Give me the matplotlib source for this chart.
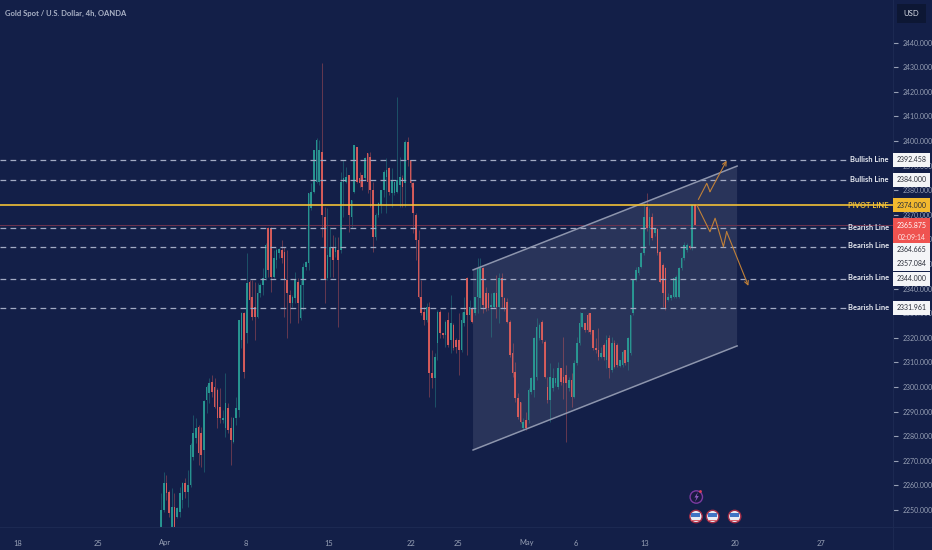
import matplotlib
matplotlib.use("Agg")
import matplotlib.pyplot as plt
from matplotlib.patches import Polygon, Rectangle, Circle

W, H = 932, 550
BG = "#131f48"
UP = "#2a9f97"
DOWN = "#e5605c"
AXIS_TXT = "#97a0b5"

title = "Gold Spot / U.S. Dollar, 4h, OANDA"

direction = ("GGRRGRGGGR" "GGGGRRGGGR" "RRRGGRRGGG" "GRGRRRGGGG" "RRGGGRRRRG"
             "GRGGGGGGGG" "RRGGRGRGGG" "RGGRRRGRRR" "GGGGGRGGGG" "RGRRRRRRRG"
             "RRGGRRGR"
             "GRRRGGRGRG" "GGRRRGGRGR" "RRRRRRRGRG" "GGGGRRRGGG" "GRRRGRGGGG"
             "RRRRRRGRGR" "GRRGGRGGGG" "GGGRGRGRRR" "RGGGGGGGGRGR")

highs = [2256.8,2265.6,2264.2,2258.1,2258.8,2256.8,2251.4,2259.5,2261.5,2262.9,
         2266.3,2277.1,2288.6,2287.3,2284.6,2283.9,2294.7,2300.8,2303.5,2304.9,
         2303.5,2299.5,2299.5,2290.7,2305.6,2293.4,2288.0,2288.0,2296.0,2327.2,
         2330.6,2330.6,2354.3,2343.5,2343.5,2342.8,2342.1,2342.1,2348.2,2358.4,
         2365.2,2365.2,2355.7,2356.4,2356.4,2359.8,2357.1,2355.7,2339.4,2337.4,
         2346.9,2344.2,2343.5,2350.3,2351.2,2378.7,2382.8,2396.3,2401.1,2400.4,
         2431.6,2373.3,2372.6,2365.2,2361.8,2361.1,2361.1,2387.5,2392.3,2389.6,
         2386.2,2376.0,2398.4,2397.7,2387.5,2386.2,2393.6,2395.0,2395.7,2383.5,
         2370.6,2375.0,2380.1,2388.2,2393.0,2389.6,2388.9,2383.5,2418.0,2393.6,
         2386.2,2400.4,2401.8,2392.3,2383.5,2370.6,2363.8,2343.5,2332.7,2334.0,
         2334.7,2315.0,2313.7,2331.3,2331.3,2322.0,2327.2,2330.6,
         2337.4,2325.9,2319.8,2330.0,2330.6,2336.7,2344.9,2335.4,2332.7,2336.7,
         2352.3,2352.3,2348.9,2340.8,2338.1,2338.1,2338.5,2345.5,2346.2,2346.2,
         2336.7,2336.0,2327.2,2317.8,2310.3,2297.4,2294.0,2287.3,2290.0,2299.5,
         2304.2,2320.5,2327.9,2325.9,2327.2,2319.1,2304.2,2309.6,2307.6,2303.5,
         2310.3,2307.6,2320.5,2309.0,2304.2,2305.6,2311.0,2320.5,2330.6,2330.0,
         2326.0,2330.0,2330.0,2323.2,2320.0,2323.8,2316.4,2317.8,2321.1,2321.1,
         2320.5,2319.1,2317.8,2311.0,2315.0,2315.0,2320.5,2329.3,2343.5,2348.9,
         2348.9,2355.0,2374.7,2378.7,2372.6,2370.6,2364.8,2364.5,2355.7,2350.3,
         2348.9,2338.1,2337.4,2344.2,2345.5,2348.9,2353.0,2359.1,2358.4,2357.7,
         2374.0,2374.0]

body_top = [2250.0,2260.8,2260.8,2257.5,2251.4,2251.4,2250.7,2256.8,2260.8,2260.8,
            2260.2,2276.4,2281.2,2283.2,2283.9,2281.2,2294.4,2300.1,2301.5,2302.2,
            2300.1,2298.8,2292.0,2287.3,2293.4,2291.3,2283.2,2287.3,2291.3,2327.2,
            2330.0,2330.2,2342.1,2342.8,2336.7,2332.7,2338.1,2341.5,2344.2,2357.7,
            2364.5,2364.5,2352.3,2355.7,2356.1,2355.7,2355.0,2343.5,2337.4,2336.7,
            2343.5,2342.8,2341.5,2348.9,2350.9,2378.7,2379.4,2396.3,2400.4,2396.3,
            2395.7,2369.2,2353.7,2357.1,2357.1,2357.1,2355.7,2383.5,2384.8,2385.5,
            2386.2,2376.0,2398.4,2397.7,2384.8,2386.2,2393.0,2395.0,2393.6,2380.1,
            2369.9,2374.7,2380.1,2387.5,2388.2,2388.9,2384.2,2383.5,2384.2,2385.5,
            2384.8,2399.7,2399.7,2392.3,2382.8,2369.9,2359.8,2336.7,2330.6,2332.7,
            2332.7,2305.6,2312.4,2330.6,2330.6,2321.8,2326.6,2327.2,
            2325.9,2325.2,2319.1,2319.1,2327.2,2330.6,2344.2,2332.7,2332.0,2336.7,
            2348.2,2348.2,2348.2,2338.1,2338.1,2333.3,2338.1,2338.1,2344.2,2344.2,
            2336.0,2334.7,2326.6,2313.7,2306.2,2295.4,2294.0,2285.9,2286.6,2298.8,
            2303.5,2319.8,2324.5,2325.2,2326.6,2318.4,2300.1,2304.2,2303.5,2303.5,
            2307.6,2307.6,2304.2,2304.9,2302.9,2302.9,2309.6,2317.8,2325.9,2330.0,
            2325.9,2329.3,2330.0,2323.2,2315.7,2315.0,2313.7,2317.0,2319.1,2319.8,
            2317.8,2317.8,2317.0,2311.0,2314.4,2315.0,2319.8,2329.3,2343.5,2347.6,
            2348.6,2354.3,2369.2,2373.3,2369.2,2369.2,2364.5,2364.2,2355.0,2349.6,
            2348.2,2336.7,2337.4,2344.2,2344.9,2348.2,2352.3,2357.7,2357.7,2357.3,
            2374.0,2374.0]

body_bottom = [2242.0,2250.0,2256.8,2248.6,2243.2,2242.0,2247.3,2249.3,2254.1,2257.5,
               2257.5,2260.2,2271.7,2279.1,2273.0,2272.4,2274.4,2294.7,2297.4,2298.1,
               2292.0,2287.3,2287.3,2286.6,2283.2,2282.5,2278.5,2277.8,2287.3,2290.7,
               2319.0,2306.2,2321.8,2335.4,2328.6,2328.6,2328.6,2338.1,2341.5,2344.2,
               2347.6,2344.9,2344.9,2351.6,2354.3,2352.3,2343.5,2338.1,2334.0,2334.0,
               2336.0,2334.0,2327.9,2341.5,2348.9,2350.3,2372.6,2379.4,2383.5,2383.5,
               2369.9,2343.5,2344.2,2353.0,2351.6,2355.0,2351.6,2355.7,2383.5,2383.5,
               2369.9,2369.2,2379.4,2383.5,2382.8,2381.4,2384.8,2383.5,2380.1,2361.1,
               2361.1,2369.9,2374.0,2380.1,2385.5,2379.4,2378.7,2378.7,2379.4,2382.1,
               2381.4,2382.8,2392.3,2382.8,2370.6,2359.8,2336.7,2330.0,2327.2,2327.2,
               2305.6,2303.5,2303.5,2317.8,2321.8,2321.1,2321.1,2317.0,
               2319.1,2315.7,2316.4,2315.0,2315.0,2325.9,2329.3,2329.3,2326.6,2330.0,
               2336.7,2336.0,2333.3,2332.0,2332.0,2332.7,2332.7,2332.7,2332.7,2336.7,
               2332.0,2326.6,2313.0,2305.6,2295.4,2288.0,2285.9,2283.2,2283.2,2286.6,
               2298.1,2298.8,2304.2,2319.8,2319.1,2304.2,2294.7,2294.7,2299.5,2301.5,
               2300.1,2302.2,2301.5,2301.5,2299.5,2296.1,2296.1,2309.6,2317.8,2324.5,
               2323.2,2323.2,2322.5,2315.7,2315.0,2312.3,2312.3,2312.3,2311.0,2307.6,
               2306.9,2308.3,2309.0,2308.5,2309.0,2309.6,2310.3,2313.7,2330.0,2343.5,
               2346.2,2348.9,2354.3,2364.5,2364.5,2360.4,2362.5,2354.3,2342.8,2338.1,
               2332.0,2335.4,2336.0,2336.7,2336.7,2336.7,2348.2,2352.3,2355.7,2356.4,
               2356.4,2365.9]

lows = [2242.0,2249.3,2254.1,2247.3,2242.0,2242.0,2246.6,2247.3,2250.7,2254.8,
        2251.4,2259.5,2270.3,2277.1,2268.3,2267.6,2265.6,2289.3,2293.4,2296.0,
        2291.3,2283.2,2285.2,2285.2,2279.8,2281.2,2268.3,2277.1,2284.6,2288.0,
        2316.0,2303.5,2317.8,2332.0,2327.2,2319.1,2327.9,2336.7,2337.4,2343.5,
        2344.9,2338.8,2344.2,2348.2,2352.3,2350.3,2328.6,2319.8,2325.9,2332.7,
        2334.0,2325.9,2327.2,2331.3,2347.6,2347.6,2372.0,2378.7,2382.8,2382.0,
        2361.1,2334.0,2343.5,2344.9,2344.9,2353.0,2324.5,2354.3,2369.2,2382.8,
        2363.2,2365.2,2378.7,2382.8,2381.4,2380.1,2384.2,2379.0,2373.3,2355.0,
        2359.8,2369.2,2370.6,2377.4,2370.6,2378.1,2373.3,2378.1,2378.7,2373.3,
        2373.3,2373.3,2390.0,2381.4,2362.5,2351.6,2336.0,2329.3,2325.2,2326.6,
        2296.0,2299.5,2292.0,2311.0,2320.0,2320.0,2316.4,2316.4,
        2313.7,2315.0,2313.7,2304.9,2314.4,2325.0,2313.0,2327.2,2326.0,2329.3,
        2330.0,2332.0,2330.0,2331.0,2331.3,2320.5,2332.0,2328.0,2325.9,2332.0,
        2331.0,2325.9,2312.0,2304.0,2294.0,2287.0,2285.2,2282.5,2282.5,2285.2,
        2297.0,2296.1,2303.0,2319.0,2318.0,2303.5,2293.5,2285.9,2298.5,2300.5,
        2299.0,2301.0,2295.0,2277.8,2298.5,2292.0,2295.4,2309.0,2317.0,2323.8,
        2322.5,2322.5,2321.5,2315.0,2314.0,2311.0,2311.6,2311.0,2307.6,2303.5,
        2306.0,2307.6,2308.3,2308.0,2308.3,2309.0,2306.9,2313.0,2329.3,2343.0,
        2345.5,2348.2,2353.7,2363.5,2357.7,2359.8,2361.5,2353.5,2342.1,2332.7,
        2331.3,2334.8,2335.4,2336.0,2336.0,2336.0,2347.6,2351.5,2355.0,2356.0,
        2355.7,2365.9]

level_prices = [2392.458, 2384.000, 2364.665, 2357.084, 2344.000, 2331.961]
pivot_price = 2374.000
last_price = 2365.875

channel_idx = [116.3, 214.7, 214.7, 116.3]
channel_prices = [2347.6, 2389.8, 2316.7, 2274.4]

path_up_idx = [200.3, 203.4, 204.6, 210.8]
path_up_prices = [2376.3, 2382.8, 2379.4, 2392.0]
path_down_idx = [199.7, 204.6, 206.5, 209.6, 210.8, 218.9]
path_down_prices = [2374.0, 2363.1, 2368.6, 2357.0, 2363.1, 2341.1]

y_ticks = list(range(2250, 2450, 10))
x_tick_pos = [-53.3, -23.5, 1.5, 31.7, 62.6, 93.2, 110.7, 136.4, 154.7, 180.4, 214.0, 246.0]
x_tick_labels = ["18", "25", "Apr", "8", "15", "22", "25", "May", "6", "13", "20", "27"]
event_idx = [199.4, 205.6, 213.8]

plt.rcParams["font.family"] = ["Lato", "DejaVu Sans"]
NUM = 5.0
fig = plt.figure(figsize=(W / 100, H / 100), dpi=100, facecolor=BG)
ax = fig.add_axes([0, 23 / H, 893 / W, 527 / H], facecolor=BG)
ax.set_xlim(-60, 272.8)
ax.set_ylim(2243.1, 2457.3)
for s in ax.spines.values():
    s.set_visible(False)
ax.tick_params(left=False, bottom=False, right=False, labelleft=False)
ax.set_xticks(x_tick_pos, x_tick_labels)
ax.tick_params(axis="x", colors=AXIS_TXT, labelsize=5.4, pad=5.5)
ax.yaxis.tick_right()
ax.set_yticks(y_ticks, [f"{v}.000" for v in y_ticks])
ax.tick_params(axis="y", colors=AXIS_TXT, labelsize=NUM, pad=3.5, labelright=True)

# separators
fig.add_artist(plt.Line2D([893 / W, 893 / W], [0, 1], color="#1c2952", lw=0.8))
fig.add_artist(plt.Line2D([0, 1], [23 / H, 23 / H], color="#1c2952", lw=0.8))

# channel
ax.add_patch(Polygon(list(zip(channel_idx, channel_prices)), closed=True,
                     facecolor="#c4c9d8", alpha=0.13, edgecolor="none", zorder=1))
ax.plot(channel_idx[:2], channel_prices[:2], color="#8d95ad", lw=1.1, zorder=5)
ax.plot(channel_idx[3:1:-1], channel_prices[3:1:-1], color="#8d95ad", lw=1.1, zorder=5)

# candles
idx = list(range(len(highs)))
for i in idx:
    c = UP if direction[i] == "G" else DOWN
    ax.vlines(i, lows[i], highs[i], color=c, lw=0.6, alpha=0.45, zorder=2)
    ax.bar(i, body_top[i] - body_bottom[i], bottom=body_bottom[i], width=0.62,
           color=c, alpha=0.9, lw=0, zorder=3)

# levels
for p in level_prices:
    ax.plot([-60, 256.5], [p, p], color="#a3abc4", lw=0.9, dashes=(4.6, 3.4), zorder=4)
ax.axhline(last_price, color="#6e3350", lw=0.7, zorder=2)
ax.axhline(pivot_price, color="#f2c037", lw=1.2, zorder=6)

# projected paths
ORANGE = "#c08038"
ax.plot(path_up_idx[:-1], path_up_prices[:-1], color=ORANGE, lw=0.8, zorder=7)
ax.annotate("", xy=(path_up_idx[-1], path_up_prices[-1]), xytext=(path_up_idx[-2], path_up_prices[-2]),
            arrowprops=dict(arrowstyle="->", color=ORANGE, lw=0.8, shrinkA=0, shrinkB=0, mutation_scale=7), zorder=7)
ax.plot(path_down_idx[:-1], path_down_prices[:-1], color=ORANGE, lw=0.8, zorder=7)
ax.annotate("", xy=(path_down_idx[-1], path_down_prices[-1]), xytext=(path_down_idx[-2], path_down_prices[-2]),
            arrowprops=dict(arrowstyle="->", color=ORANGE, lw=0.8, shrinkA=0, shrinkB=0, mutation_scale=7), zorder=7)


def fx(x):
    return x / W


def fy(y):
    return 1 - y / H


def box(x0, y0, x1, y1, color):
    fig.add_artist(Rectangle((fx(x0), fy(y1)), (x1 - x0) / W, (y1 - y0) / H,
                             transform=fig.transFigure, facecolor=color, edgecolor="none", zorder=10))


def label(x, y, s, color, size=NUM, ha="center", weight="normal"):
    fig.text(fx(x), fy(y), s, color=color, fontsize=size, ha=ha, va="center",
             fontweight=weight, zorder=11)


# title and currency
label(5, 13, title, "#aab2c6", size=5.5, ha="left", weight="bold")
box(897, 4, 926, 23, "#0d1734")
label(911.5, 13.5, "USD", "#d8dce6", size=5.6)

# line captions and price tags
captions = [("Bullish Line", 160, "#e8ebf2"), ("Bullish Line", 180, "#e8ebf2"),
            ("PIVOT LINE", 205, "#f2c037"), ("Bearish Line", 227.5, "#e8ebf2"),
            ("Bearish Line", 246, "#e8ebf2"), ("Bearish Line", 278, "#e8ebf2"),
            ("Bearish Line", 308, "#e8ebf2")]
for s, y, c in captions:
    label(889, y, s, c, size=5.4, ha="right", weight="bold")

box(893, 153, 930, 167, "#f4f5f7")
box(893, 173, 930, 187, "#f4f5f7")
box(893, 198, 930, 212, "#f2b92e")
box(893, 218, 930, 243, "#ef5350")
box(893, 243, 930, 271, "#f4f5f7")
box(893, 272, 930, 286, "#f4f5f7")
box(893, 301, 930, 315, "#f4f5f7")
TAG = "#2a2e39"
label(911.5, 160, "2392.458", TAG)
label(911.5, 180, "2384.000", TAG)
label(911.5, 205, "2374.000", TAG)
label(911.5, 225, "2365.875", "#ffffff")
label(911.5, 237, "02:09:14", "#ffe4e2")
label(911.5, 250, "2364.665", TAG)
label(911.5, 264, "2357.084", TAG)
label(911.5, 278.5, "2344.000", TAG)
label(911.5, 308, "2331.961", TAG)

# event icons
ix = [161 + 2.683 * v for v in event_idx]
for x in ix:
    fig.add_artist(Circle((x, H - 516.5), 6.2, transform=None, facecolor="#e8ecf4",
                          edgecolor="#a32b45", lw=1.0, zorder=10))
    fig.add_artist(Rectangle((x - 4.5, H - 516.5), 9, 3.6, transform=None, facecolor="#3f74c4",
                             edgecolor="none", zorder=11))
    fig.add_artist(Rectangle((x - 4.5, H - 521), 9, 1.3, transform=None, facecolor="#d9606a",
                             edgecolor="none", zorder=11))
x = ix[0]
fig.add_artist(Circle((x + 0.3, H - 497), 6.2, transform=None, facecolor="#1a1a40",
                      edgecolor="#7b3aa0", lw=1.0, zorder=10))
fig.add_artist(Polygon([(x + 2, H - 492), (x - 1.5, H - 497.5), (x + 0.5, H - 497.5),
                        (x - 1, H - 502), (x + 2.8, H - 496), (x + 0.7, H - 496)],
                       closed=True, transform=None, facecolor="#8e5cc0", edgecolor="none", zorder=11))
fig.add_artist(Circle((x + 4.5, H - 491.5), 1.4, transform=None, facecolor="#e0405a",
                      edgecolor="none", zorder=12))

assert len(highs) == len(lows) == len(body_top) == len(body_bottom) == len(direction)
fig.savefig("out.png", dpi=100, facecolor=BG)
